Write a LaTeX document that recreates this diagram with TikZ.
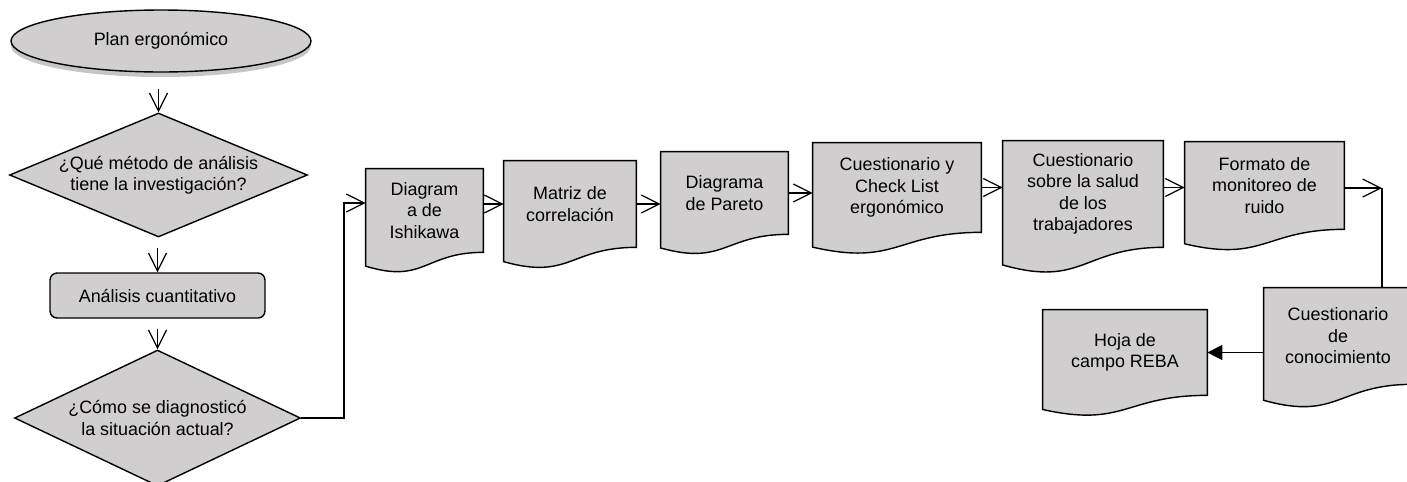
\documentclass[tikz,border=0pt]{standalone}
\usepackage{fontspec}
\setmainfont{Liberation Sans}
\usetikzlibrary{shapes.geometric, arrows.meta, calc, backgrounds, shadows}

\definecolor{boxgray}{RGB}{208,206,207}

\tikzset{
	every node/.style={font=\fontsize{10.2}{12.2}\selectfont, align=center},
	startbox/.style={ellipse, draw, fill=boxgray, line width=0.8pt, minimum width=6cm, minimum height=1.24cm,
		drop shadow={shadow xshift=0pt, shadow yshift=-0.1cm, opacity=0.45, fill=black!50}},
	askbox/.style={diamond, draw, fill=boxgray, line width=0.8pt, inner sep=-2pt, aspect=2.4},
	stepbox/.style={rectangle, rounded corners=0.14cm, draw, fill=boxgray, line width=0.8pt,
		minimum width=4.3cm, minimum height=0.9cm},
	docnode/.style={rectangle, inner sep=0pt},
	docline/.style={draw, fill=boxgray, line width=0.8pt},
	link/.style={line width=0.7pt},
	flow/.style={link, -{Straight Barb[length=0.36cm, width=0.36cm]}},
	fillflow/.style={link, -{Triangle[length=0.3cm, width=0.3cm]}}
}

% document shape drawn behind a named node
\newcommand{\docshape}[1]{%
	\begin{pgfonlayer}{background}
		\draw[docline] (#1.north west) -- (#1.north east) -- (#1.south east)
			.. controls (#1.south) and ($(#1.south)!-0.38!(#1.north)$)
			.. ($(#1.south west)!-0.165!(#1.north west)$) -- cycle;
	\end{pgfonlayer}}

\begin{document}
\begin{tikzpicture}[x=0.02cm, y=-0.02cm]
	\useasboundingbox (0,0) rectangle (1407,481);

	% left column
	\node[startbox] (plan) at (161, 41) {Plan ergonómico};
	\node[askbox, minimum width=5.96cm, minimum height=2.48cm] (q1) at (158.5, 175) {¿Qué método de análisis\\tiene la investigación?};
	\node[stepbox] (ana) at (157.5, 295.5) {Análisis cuantitativo};
	\node[askbox, aspect=2.1, minimum width=5.72cm, minimum height=2.72cm] (q2) at (157.5, 418) {¿Cómo se diagnosticó\\la situación actual?};

	% documents
	\node[docnode, minimum width=2.34cm, minimum height=1.66cm] (isk) at (424.5, 210.5) {Diagram\\a de\\Ishikawa};
	\node[docnode, minimum width=2.64cm, minimum height=1.72cm] (mat) at (570, 204) {Matriz de\\correlación};
	\node[docnode, minimum width=2.54cm, minimum height=1.64cm] (par) at (724.5, 193) {Diagrama\\de Pareto};
	\node[docnode, minimum width=3.36cm, minimum height=1.78cm] (chk) at (897, 187.5) {Cuestionario y\\Check List\\ergonómico};
	\node[docnode, minimum width=3.2cm, minimum height=2.12cm] (sal) at (1083, 194) {Cuestionario\\sobre la salud\\de los\\trabajadores};
	\node[docnode, minimum width=3.18cm, minimum height=1.74cm] (mon) at (1264.5, 185.5) {Formato de\\monitoreo de\\ruido};
	\node[docnode, minimum width=2.96cm, minimum height=1.92cm] (con) at (1338, 336) {Cuestionario\\de\\conocimiento};
	\node[docnode, minimum width=3.28cm, minimum height=1.7cm] (reb) at (1125, 352.5) {Hoja de\\campo REBA};

	\foreach \d in {isk, mat, par, chk, sal, mon, con, reb} {\docshape{\d}}

	% connectors
	\coordinate (k1) at (344, 203);
	\coordinate (k2) at (1382, 188);

	\draw[flow, shorten <=0.32cm] (q1.north |- plan.south) -- (q1.north);
	\draw[flow, shorten <=0.2cm] (ana.north |- q1.south) -- (ana.north);
	\draw[flow, shorten <=0.2cm] (ana.south) -- (q2.north);
	\draw[flow] (q2.east) -| (k1) -- (k1 -| isk.west);
	\draw[flow] (isk.east |- mat.west) -- (mat.west);
	\draw[flow] (mat.east) -- (mat.east -| par.west);
	\draw[flow] (par.east) -- (par.east -| chk.west);
	\draw[flow] (chk.east) -- (chk.east -| sal.west);
	\draw[flow] (sal.east |- chk.east) -- (chk.east -| mon.west);
	\draw[flow] (mon.east |- k2) -- (k2);
	\draw[link] (k2) -- (k2 |- con.north);
	\draw[fillflow] (con.west |- reb.east) -- (reb.east);
\end{tikzpicture}
\end{document}
